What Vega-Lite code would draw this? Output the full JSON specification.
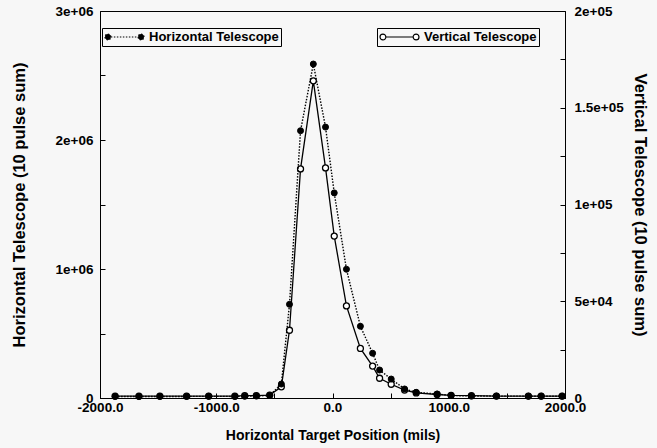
{
  "$schema": "https://vega.github.io/schema/vega-lite/v6.json",
  "width": 465,
  "height": 387,
  "autosize": {"type": "none"},
  "padding": {"left": 100, "top": 11, "right": 92, "bottom": 50},
  "background": "#f7f7f7",
  "config": {
    "view": {"stroke": "black", "strokeWidth": 1},
    "font": "Liberation Sans",
    "axis": {
      "domainColor": "black", "tickColor": "black", "labelColor": "black", "titleColor": "black",
      "labelFont": "Liberation Sans", "titleFont": "Liberation Sans",
      "labelFontWeight": "bold", "titleFontWeight": "bold",
      "labelFontSize": 13.5, "titleFontSize": 14,
      "grid": false, "tickSize": -5, "labelFlush": false, "labelOverlap": false
    },
    "legend": {
      "orient": "none", "title": null, "strokeColor": "black", "padding": 2,
      "labelFont": "Liberation Sans", "labelFontWeight": "bold", "labelFontSize": 13,
      "labelColor": "black", "clipHeight": 14, "labelOffset": 4, "symbolSize": 1521
    }
  },
  "data": {
    "values": [
      {"pos": -1870, "h": 12000, "v": 1000},
      {"pos": -1665, "h": 11000, "v": 1000},
      {"pos": -1485, "h": 12000, "v": 1000},
      {"pos": -1255, "h": 12000, "v": 1000},
      {"pos": -1065, "h": 13000, "v": 1000},
      {"pos": -840, "h": 12000, "v": 1000},
      {"pos": -755, "h": 14000, "v": 1200},
      {"pos": -655, "h": 16000, "v": 1200},
      {"pos": -540, "h": 20000, "v": 1500},
      {"pos": -440, "h": 108000, "v": 5800},
      {"pos": -370, "h": 726000, "v": 35000},
      {"pos": -275, "h": 2072000, "v": 118400},
      {"pos": -165, "h": 2589000, "v": 163900},
      {"pos": -60, "h": 2100000, "v": 118900},
      {"pos": 15, "h": 1590000, "v": 83700},
      {"pos": 120, "h": 998000, "v": 47600},
      {"pos": 240, "h": 556000, "v": 25600},
      {"pos": 345, "h": 347000, "v": 16500},
      {"pos": 405, "h": 217000, "v": 10200},
      {"pos": 505, "h": 147000, "v": 7100},
      {"pos": 620, "h": 70000, "v": 4100},
      {"pos": 720, "h": 44000, "v": 2600},
      {"pos": 900, "h": 31000, "v": 1800},
      {"pos": 1020, "h": 20000, "v": 1400},
      {"pos": 1195, "h": 15000, "v": 1200},
      {"pos": 1410, "h": 15000, "v": 1000},
      {"pos": 1685, "h": 14000, "v": 1000},
      {"pos": 1795, "h": 14000, "v": 1000},
      {"pos": 1975, "h": 14000, "v": 1000}
    ]
  },
  "layer": [
    {
      "encoding": {
        "x": {"field": "pos", "type": "quantitative", "scale": {"domain": [-2000, 2000], "nice": false},
          "axis": {"title": "Horizontal Target Position (mils)", "values": [-2000, -1500, -1000, -500, 0, 500, 1000, 1500, 2000],
            "labelExpr": "datum.value % 1000 === 0 ? (datum.value === 0 ? '0.0' : datum.value + '.0') : ''",
            "labelPadding": 7, "titlePadding": 15}},
        "y": {"field": "v", "type": "quantitative", "scale": {"domain": [0, 200000], "nice": false},
          "axis": {"orient": "right", "title": "Vertical Telescope (10 pulse sum)", "titleFontSize": 16.5,
            "values": [0, 25000, 50000, 75000, 100000, 125000, 150000, 175000, 200000],
            "labelExpr": "datum.value === 0 ? '0' : datum.value === 50000 ? '5e+04' : datum.value % 50000 === 0 ? (datum.value / 100000) + 'e+05' : ''",
            "labelPadding": 14, "titlePadding": 8}}
      },
      "layer": [
        {
          "mark": {"type": "line", "strokeWidth": 1.3},
          "encoding": {
            "color": {"datum": "Vertical Telescope", "scale": {"range": ["black"]},
              "legend": {"legendX": 277, "legendY": 17,
                "symbolType": "M-1,0A0.15,0.15,0,1,0,-0.7,0A0.15,0.15,0,1,0,-1,0Z M0.7,0A0.15,0.15,0,1,0,1,0A0.15,0.15,0,1,0,0.7,0Z M-0.7,0L0.7,0",
                "symbolFillColor": "white", "symbolStrokeColor": "black", "symbolStrokeWidth": 1.2,
                "encode": {"symbols": {"update": {"fill": {"value": "white"}, "stroke": {"value": "black"}, "strokeWidth": {"value": 1.2}, "opacity": {"value": 1}}}}}}
          }
        },
        {
          "mark": {"type": "point", "filled": true, "fill": "white", "stroke": "black", "strokeWidth": 1.3, "size": 36, "opacity": 1}
        }
      ]
    },
    {
      "encoding": {
        "x": {"field": "pos", "type": "quantitative", "scale": {"domain": [-2000, 2000], "nice": false},
          "axis": {"title": "Horizontal Target Position (mils)", "values": [-2000, -1500, -1000, -500, 0, 500, 1000, 1500, 2000],
            "labelExpr": "datum.value % 1000 === 0 ? (datum.value === 0 ? '0.0' : datum.value + '.0') : ''",
            "labelPadding": 7, "titlePadding": 15}},
        "y": {"field": "h", "type": "quantitative", "scale": {"domain": [0, 3000000], "nice": false},
          "axis": {"orient": "left", "title": "Horizontal Telescope (10 pulse sum)", "titleFontSize": 16.5,
            "values": [0, 500000, 1000000, 1500000, 2000000, 2500000, 3000000],
            "labelExpr": "datum.value === 0 ? '0' : (datum.value % 1000000 === 0 ? (datum.value / 1000000) + 'e+06' : '')",
            "labelPadding": 12, "titlePadding": 28}}
      },
      "layer": [
        {
          "mark": {"type": "line", "strokeWidth": 1.4, "strokeDash": [1.5, 1.5]},
          "encoding": {
            "color": {"datum": "Horizontal Telescope", "scale": {"range": ["black"]},
              "legend": {"legendX": 2, "legendY": 17,
                "symbolType": "M-1,0A0.15,0.15,0,1,0,-0.7,0A0.15,0.15,0,1,0,-1,0Z M0.7,0A0.15,0.15,0,1,0,1,0A0.15,0.15,0,1,0,0.7,0Z M-0.7,0L0.7,0",
                "symbolFillColor": "black", "symbolStrokeColor": "black", "symbolStrokeWidth": 1.2, "symbolDash": [1.5, 1.5],
                "encode": {"symbols": {"update": {"fill": {"value": "black"}, "stroke": {"value": "black"}, "strokeWidth": {"value": 1.2}, "strokeDash": {"value": [1.5, 1.5]}, "opacity": {"value": 1}}}}}}
          }
        },
        {
          "mark": {"type": "point", "filled": true, "fill": "black", "stroke": "black", "strokeWidth": 1, "size": 36, "opacity": 1}
        }
      ]
    }
  ],
  "resolve": {"scale": {"y": "independent", "color": "independent"}, "legend": {"color": "independent"}}
}
